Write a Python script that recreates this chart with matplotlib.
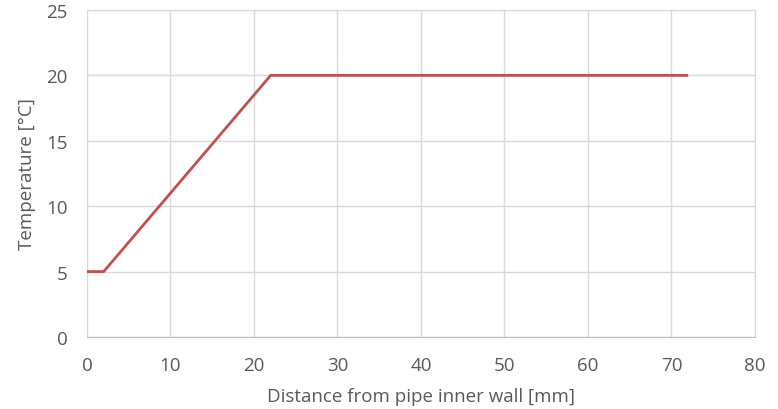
import matplotlib.pyplot as plt

plt.rcParams['font.family'] = ['Open Sans', 'DejaVu Sans']

# data
distance = [0, 2, 22, 72]
temperature = [5, 5, 20, 20]
x_ticks = [0, 10, 20, 30, 40, 50, 60, 70, 80]
y_ticks = [0, 5, 10, 15, 20, 25]

text_grey = '#595959'
grid_grey = '#D9D9D9'

fig = plt.figure(figsize=(7.78, 4.10), dpi=100)
ax = fig.add_axes([0.1118, 0.1756, 0.8586, 0.7976])

ax.plot(distance, temperature, color='#C0504D', linewidth=2, solid_capstyle='butt', zorder=3)

ax.set_xlim(0, 80)
ax.set_ylim(0, 25)
ax.set_xticks(x_ticks)
ax.set_yticks(y_ticks)
ax.grid(True, color=grid_grey, linewidth=1)

for side in ['top', 'right', 'left']:
    ax.spines[side].set_color(grid_grey)
ax.spines['bottom'].set_color('#BFBFBF')

ax.tick_params(length=0, labelsize=13.5, colors=text_grey, pad=14)
ax.set_xlabel('Distance from pipe inner wall [mm]', fontsize=13.5, color=text_grey, labelpad=9)
ax.set_ylabel('Temperature [°C]', fontsize=13.5, color=text_grey, labelpad=7)

plt.savefig('out.png', dpi=100)
